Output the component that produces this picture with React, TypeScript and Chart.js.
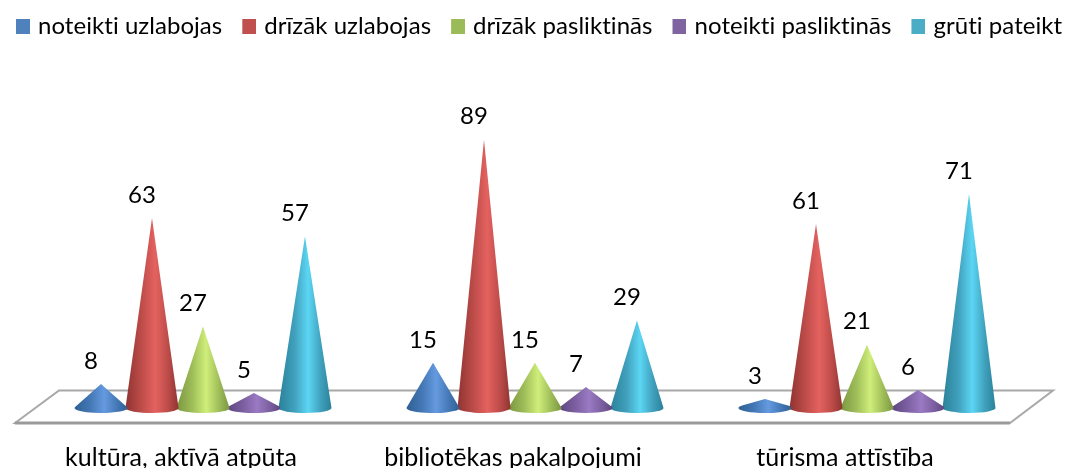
import React, { useEffect, useRef } from "react";
import { Chart, registerables } from "chart.js";

Chart.register(...registerables);

const categories = ["kultūra, aktīvā atpūta", "bibliotēkas pakalpojumi", "tūrisma attīstība"];
const noteiktiUzlabojas = [8, 15, 3];
const drizakUzlabojas = [63, 89, 61];
const drizakPasliktinas = [27, 15, 21];
const noteiktiPasliktinas = [5, 7, 6];
const grutiPateikt = [57, 29, 71];

const seriesNames = ["noteikti uzlabojas", "drīzāk uzlabojas", "drīzāk pasliktinās", "noteikti pasliktinās", "grūti pateikt"];
const seriesValues = [noteiktiUzlabojas, drizakUzlabojas, drizakPasliktinas, noteiktiPasliktinas, grutiPateikt];
const flatColors = ["#4F81BD", "#C0504D", "#9BBB59", "#8064A2", "#4BACC6"];
const darkColors = ["#2f5f93", "#8f3432", "#7a9640", "#5d4680", "#2b8199"];
const midColors = ["#4478b6", "#bd4c49", "#9fbe59", "#7c5fa0", "#40a0bc"];
const lightColors = ["#659ae0", "#e46260", "#d0ee7a", "#9a7ac4", "#5cd6f4"];

const FONT = "Lato, Carlito, sans-serif";
const SWATCH_SLOT = 29;
const LEGEND_SHIFT = -8;

function legendSwatch(color: string) {
  const c = document.createElement("canvas");
  c.width = SWATCH_SLOT + 8;
  c.height = 15;
  const g = c.getContext("2d") as CanvasRenderingContext2D;
  g.fillStyle = color;
  g.fillRect(c.width - 14, 0, 14, 15);
  return c;
}

const conePlugin = {
  id: "cones",
  afterLayout(chart: any) {
    chart.legend.left += LEGEND_SHIFT;
    chart.legend.right += LEGEND_SHIFT;
  },
  beforeDraw(chart: any) {
    chart.ctx.letterSpacing = "0.05px";
  },
  beforeDatasetsDraw(chart: any) {
    const { ctx, chartArea: a } = chart;
    const fl = a.left - 22;
    const fr = a.right - 23;
    const fy = a.bottom + 15;
    const by = a.bottom - 17.5;
    ctx.save();
    ctx.beginPath();
    ctx.moveTo(fl, fy);
    ctx.lineTo(a.left + 22, by);
    ctx.lineTo(a.right + 20, by);
    ctx.lineTo(fr, fy);
    ctx.closePath();
    ctx.fillStyle = "#ffffff";
    ctx.fill();
    ctx.strokeStyle = "#a8a8a8";
    ctx.lineWidth = 2;
    ctx.stroke();
    ctx.beginPath();
    ctx.moveTo(fl, fy);
    ctx.lineTo(fr, fy);
    ctx.strokeStyle = "#9a9a9a";
    ctx.lineWidth = 3;
    ctx.stroke();
    ctx.restore();
  },
  beforeDatasetDraw(chart: any, args: any) {
    const { ctx } = chart;
    const i = args.index;
    args.meta.data.forEach((bar: any) => {
      const rx = 26.5;
      const ry = 5;
      const cx = bar.x;
      const base = bar.base;
      const h = base - bar.y;
      const ratio = ry / h;
      const tx = rx * Math.sqrt(Math.max(0, 1 - ratio * ratio));
      const ty = (ry * ry) / h;
      const angle = Math.asin(Math.min(1, ratio));
      const g = ctx.createLinearGradient(cx - rx, 0, cx + rx, 0);
      g.addColorStop(0, darkColors[i]);
      g.addColorStop(0.3, midColors[i]);
      g.addColorStop(0.56, lightColors[i]);
      g.addColorStop(0.8, midColors[i]);
      g.addColorStop(1, darkColors[i]);
      ctx.save();
      ctx.beginPath();
      ctx.moveTo(cx, bar.y);
      ctx.lineTo(cx + tx, base - ty);
      ctx.ellipse(cx, base, rx, ry, 0, -angle, Math.PI + angle);
      ctx.closePath();
      ctx.fillStyle = g;
      ctx.fill();
      ctx.restore();
    });
    return false;
  },
  afterDatasetsDraw(chart: any) {
    const { ctx } = chart;
    ctx.save();
    ctx.fillStyle = "#000000";
    ctx.font = `24px ${FONT}`;
    ctx.textAlign = "center";
    ctx.textBaseline = "middle";
    chart.data.datasets.forEach((ds: any, i: number) => {
      chart.getDatasetMeta(i).data.forEach((bar: any, j: number) => {
        ctx.fillText(String(ds.data[j]), bar.x - 10, bar.y - 23);
      });
    });
    ctx.restore();
  },
};

export default function App() {
  const ref = useRef<HTMLCanvasElement>(null);
  useEffect(() => {
    const chart = new Chart(ref.current as HTMLCanvasElement, {
      type: "bar",
      data: {
        labels: categories,
        datasets: seriesNames.map((name, i) => ({
          label: name,
          data: seriesValues[i],
          backgroundColor: flatColors[i],
          borderWidth: 0,
          barPercentage: 1,
          categoryPercentage: 0.768,
          yAxisID: "y",
        })),
      },
      options: {
        responsive: false,
        animation: false,
        layout: { padding: { left: 0, right: 0, top: 13, bottom: 0 } },
        plugins: {
          tooltip: { enabled: false },
          legend: {
            position: "top",
            labels: {
              usePointStyle: true,
              pointStyleWidth: SWATCH_SLOT,
              padding: 1,
              color: "#000000",
              font: { family: FONT, size: 24 },
              generateLabels: (c: any) =>
                Chart.defaults.plugins.legend.labels.generateLabels(c).map((item: any, i: number) => ({
                  ...item,
                  pointStyle: legendSwatch(flatColors[i]),
                })),
            },
          },
        },
        scales: {
          x: {
            grid: { display: false, drawTicks: false },
            border: { display: false },
            afterFit: (s: any) => {
              s.height = 60;
            },
            ticks: {
              color: "#000000",
              font: { family: FONT, size: 25 },
              padding: 35,
              labelOffset: -22,
              maxRotation: 0,
              autoSkip: false,
            },
          },
          y: {
            min: 0,
            max: 119.4,
            position: "left",
            ticks: { display: false },
            grid: { display: false, drawTicks: false },
            border: { display: false },
            afterFit: (s: any) => {
              s.width = 37;
            },
          },
          y2: {
            min: 0,
            max: 1,
            position: "right",
            ticks: { display: false },
            grid: { display: false, drawTicks: false },
            border: { display: false },
            afterFit: (s: any) => {
              s.width = 40;
            },
          },
        },
      },
      plugins: [conePlugin],
    } as any);
    return () => chart.destroy();
  }, []);
  return (
    <div style={{ position: "absolute", left: 0, top: 0, width: 1073, height: 468, background: "#fff" }}>
      <canvas ref={ref} width={1073} height={468} style={{ display: "block" }} />
    </div>
  );
}
